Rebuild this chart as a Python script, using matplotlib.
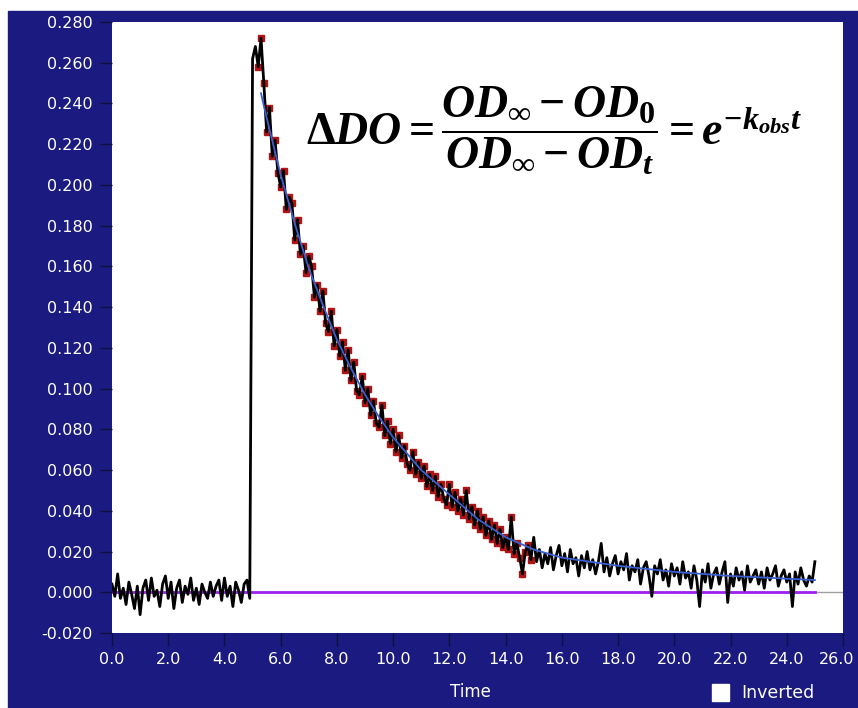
import numpy as np
import matplotlib
matplotlib.use('Agg')
import matplotlib.pyplot as plt
import matplotlib.transforms as mtransforms
from matplotlib.patches import Rectangle

# Absorbance trace, sampled every 0.1 time unit from 0.0 to 25.0
SIGNAL = [
    0.004, -0.002, 0.009, -0.003, 0.002, -0.006, 0.005, -0.001, -0.008, 0.003,
    -0.011, 0.002, 0.006, -0.004, 0.007, -0.002, 0.001, -0.007, 0.004, 0.008,
    -0.003, 0.005, -0.008, 0.002, 0.006, -0.005, 0.003, -0.001, 0.007, -0.004,
    0.002, -0.006, 0.004, 0.000, -0.003, 0.005, -0.002, 0.003, 0.006, -0.004,
    0.007, -0.002, 0.003, -0.007, 0.005, 0.001, -0.005, 0.004, 0.006, -0.003,
    0.262, 0.268, 0.258, 0.272, 0.250, 0.226, 0.238, 0.214, 0.222, 0.206,
    0.199, 0.207, 0.188, 0.194, 0.191, 0.173, 0.183, 0.166, 0.170, 0.157,
    0.165, 0.160, 0.145, 0.151, 0.138, 0.148, 0.132, 0.128, 0.138, 0.121,
    0.129, 0.116, 0.123, 0.109, 0.119, 0.104, 0.113, 0.099, 0.097, 0.106,
    0.093, 0.100, 0.087, 0.094, 0.083, 0.081, 0.092, 0.077, 0.084, 0.073,
    0.080, 0.069, 0.077, 0.066, 0.072, 0.063, 0.060, 0.069, 0.058, 0.064,
    0.056, 0.062, 0.052, 0.058, 0.050, 0.057, 0.047, 0.053, 0.046, 0.043,
    0.053, 0.042, 0.049, 0.040, 0.046, 0.038, 0.050, 0.036, 0.042, 0.033,
    0.040, 0.031, 0.037, 0.028, 0.035, 0.026, 0.033, 0.024, 0.031, 0.022,
    0.027, 0.021, 0.037, 0.019, 0.024, 0.017, 0.009, 0.020, 0.023, 0.016,
    0.027, 0.015, 0.021, 0.012, 0.019, 0.014, 0.022, 0.011, 0.018, 0.023,
    0.013, 0.019, 0.010, 0.021, 0.014, 0.017, 0.008, 0.018, 0.012, 0.020,
    0.011, 0.016, 0.009, 0.015, 0.024, 0.010, 0.017, 0.008, 0.014, 0.018,
    0.009, 0.015, 0.011, 0.019, 0.006, 0.013, 0.010, 0.016, 0.004, 0.012,
    0.015, 0.008, -0.002, 0.013, 0.009, 0.016, 0.006, 0.011, 0.003, 0.014,
    0.008, 0.012, 0.004, 0.015, 0.007, 0.010, 0.002, 0.013, 0.006, -0.007,
    0.011, 0.005, 0.014, 0.002, 0.009, 0.012, 0.004, 0.010, 0.015, -0.005,
    0.009, 0.003, 0.012, 0.006, 0.010, 0.001, 0.013, 0.005, 0.008, 0.011,
    0.004, 0.010, 0.002, 0.012, 0.006, 0.009, 0.013, 0.003, 0.008, 0.011,
    0.005, 0.009, -0.007, 0.010, 0.004, 0.012, 0.006, 0.003, 0.008, 0.005,
    0.015,
]
TIME = np.round(np.arange(len(SIGNAL)) * 0.1, 1)

# Range of points used in the fit (red markers)
FIT_START, FIT_END = 5.2, 14.9

# Fitted exponential (blue)
FIT_T = [5.3, 5.5, 6.0, 6.5, 7.0, 7.5, 8.0, 8.5, 9.0, 9.5, 10.0, 11.0, 12.0,
         13.0, 14.0, 15.0, 16.0, 17.0, 18.0, 20.0, 22.0, 25.0]
FIT_V = [0.245, 0.233, 0.205, 0.181, 0.159, 0.141, 0.124, 0.110, 0.097, 0.086,
         0.076, 0.060, 0.048, 0.036, 0.027, 0.021, 0.017, 0.015, 0.013, 0.010,
         0.008, 0.006]

XTICKS = np.arange(0, 26.1, 2.0)
YTICKS = np.arange(-0.020, 0.2801, 0.020)

NAVY = '#1a1a80'

# Equation font: bold serif for math
plt.rcParams['mathtext.fontset'] = 'custom'
plt.rcParams['mathtext.it'] = 'Liberation Serif:italic:bold'
plt.rcParams['mathtext.rm'] = 'Liberation Serif:bold'
plt.rcParams['mathtext.bf'] = 'Liberation Serif:bold'

fig = plt.figure(figsize=(8.58, 7.08), dpi=100, facecolor='white')
fig.patches.append(Rectangle((8 / 858, 0), 1, 1 - 11 / 708,
                             transform=fig.transFigure, color=NAVY, zorder=-10))

ax = fig.add_axes([112 / 858, 1 - 633 / 708, (843 - 112) / 858, (633 - 22) / 708])
ax.set_facecolor('white')

sel = (TIME >= FIT_START) & (TIME <= FIT_END)
ax.axhline(0, color='#a0a0a0', lw=1, zorder=1)
ax.plot([0, 25], [0, 0], color='#a020f0', lw=2, zorder=2)
ax.plot(TIME[sel], np.array(SIGNAL)[sel], ls='none', marker='s', ms=4.5,
        color='#b01515', zorder=3)
ax.plot(TIME, SIGNAL, color='black', lw=2, zorder=4)
ax.plot(FIT_T, FIT_V, color='#3a5fd0', lw=1.3, zorder=5)

ax.set_xlim(0, 26)
ax.set_ylim(-0.020, 0.280)
ax.set_xticks(XTICKS)
ax.set_xticklabels(['%.1f' % v for v in XTICKS])
ax.set_yticks(YTICKS)
ax.set_yticklabels(['%.3f' % v for v in YTICKS])
ax.tick_params(colors='#101040', labelcolor='white', labelsize=11.5, width=1)
ax.tick_params(axis='y', length=9, pad=5)
ax.tick_params(axis='x', length=9, pad=5)
for s in ax.spines.values():
    s.set_visible(False)

# last x label sits at the panel edge, nudge it left so it stays visible
last = ax.get_xticklabels()[-1]
last.set_transform(last.get_transform() +
                   mtransforms.ScaledTranslation(-6 / 100, 0, fig.dpi_scale_trans))

ax.text(0.605, 0.823,
        r'$\Delta DO = \dfrac{OD_\infty - OD_0}{OD_\infty - OD_t} = e^{-k_{obs}t}$',
        transform=ax.transAxes, ha='center', va='center', fontsize=33,
        color='black')

fig.text(470 / 858, 1 - 692 / 708, 'Time', color='white', fontsize=12,
         ha='center', va='center')
fig.patches.append(Rectangle((712 / 858, 1 - 701 / 708), 17 / 858, 17 / 708,
                             transform=fig.transFigure, color='white', zorder=1))
fig.text(741 / 858, 1 - 693 / 708, 'Inverted', color='white', fontsize=12.5,
         ha='left', va='center')

fig.savefig('out.png', dpi=100, facecolor=fig.get_facecolor())
